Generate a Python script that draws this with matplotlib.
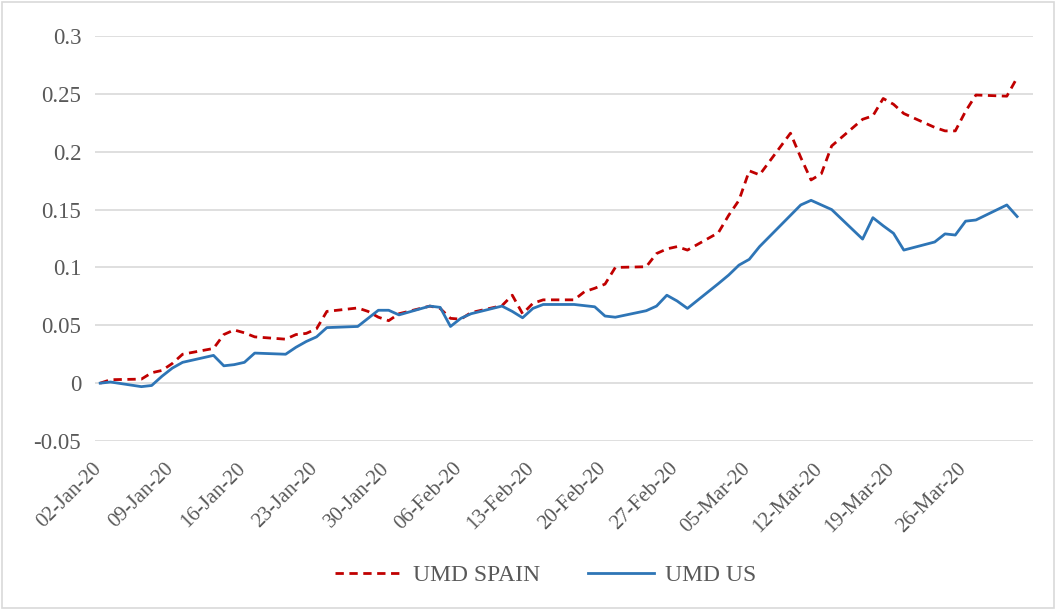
import matplotlib.pyplot as plt
import matplotlib.transforms as mtransforms
import numpy as np
import pandas as pd
from matplotlib.patches import Rectangle

# Settings
plt.rcParams["font.family"] = ["Liberation Serif", "DejaVu Serif"]
plt.rcParams["axes.unicode_minus"] = False

# -----------------------------
# Data
# -----------------------------
dates = [
    "2020-01-02", "2020-01-03", "2020-01-06", "2020-01-07", "2020-01-08",
    "2020-01-09", "2020-01-10", "2020-01-13", "2020-01-14", "2020-01-15",
    "2020-01-16", "2020-01-17", "2020-01-20", "2020-01-21", "2020-01-22",
    "2020-01-23", "2020-01-24", "2020-01-27", "2020-01-28", "2020-01-29",
    "2020-01-30", "2020-01-31", "2020-02-03", "2020-02-04", "2020-02-05",
    "2020-02-06", "2020-02-07", "2020-02-10", "2020-02-11", "2020-02-12",
    "2020-02-13", "2020-02-14", "2020-02-17", "2020-02-18", "2020-02-19",
    "2020-02-20", "2020-02-21", "2020-02-24", "2020-02-25", "2020-02-26",
    "2020-02-27", "2020-02-28", "2020-03-02", "2020-03-03", "2020-03-04",
    "2020-03-05", "2020-03-06", "2020-03-09", "2020-03-10", "2020-03-11",
    "2020-03-12", "2020-03-13", "2020-03-16", "2020-03-17", "2020-03-18",
    "2020-03-19", "2020-03-20", "2020-03-23", "2020-03-24", "2020-03-25",
    "2020-03-26", "2020-03-27", "2020-03-30", "2020-03-31",
]

umd_spain = [
    0.000, 0.003, 0.0035, 0.009, 0.011,
    0.017, 0.025, 0.030, 0.042, 0.046,
    0.0435, 0.040, 0.038, 0.042, 0.043,
    0.047, 0.062, 0.065, 0.062, 0.057,
    0.054, 0.060, 0.0666, 0.0646, 0.056,
    0.0553, 0.061, 0.067, 0.076, 0.060,
    0.069, 0.072, 0.072, 0.079, 0.082,
    0.0856, 0.100, 0.1006, 0.112, 0.116,
    0.118, 0.115, 0.130, 0.145, 0.158,
    0.1835, 0.180, 0.216, 0.195, 0.1756,
    0.181, 0.205, 0.228, 0.231, 0.246,
    0.241, 0.233, 0.221, 0.218, 0.218,
    0.235, 0.249, 0.248, 0.264,
]

umd_us = [
    0.000, 0.001, -0.003, -0.002, 0.006,
    0.013, 0.018, 0.024, 0.015, 0.016,
    0.018, 0.026, 0.025, 0.031, 0.036,
    0.040, 0.048, 0.049, 0.056, 0.063,
    0.063, 0.059, 0.0666, 0.0655, 0.049,
    0.056, 0.060, 0.0666, 0.062, 0.0565,
    0.0646, 0.068, 0.068, 0.067, 0.066,
    0.058, 0.057, 0.0626, 0.0666, 0.076,
    0.071, 0.0646, 0.086, 0.0934, 0.102,
    0.107, 0.118, 0.145, 0.154, 0.158,
    0.154, 0.150, 0.1245, 0.143, 0.136,
    0.1295, 0.115, 0.122, 0.129, 0.128,
    0.140, 0.141, 0.154, 0.144,
]

y_ticks = [-0.05, 0, 0.05, 0.1, 0.15, 0.2, 0.25, 0.3]

x = pd.to_datetime(dates)

# -----------------------------
# Plot
# -----------------------------
text_color = "#595959"
grid_color = "#d9d9d9"

fig = plt.figure(figsize=(10.57, 6.10), dpi=100)
ax = fig.add_axes([0.0899, 0.277, 0.887, 0.664])

ax.plot(
    x,
    umd_spain,
    color="#C00000",
    lw=2.0,
    linestyle=(0, (3, 2)),
    label="UMD SPAIN",
)

ax.plot(
    x,
    umd_us,
    color="#2E75B6",
    lw=2.0,
    label="UMD US",
)

ax.set_ylim(-0.05, 0.3)
ax.set_yticks(y_ticks)
ax.set_yticklabels([f"{v:g}" for v in y_ticks])
ax.grid(axis="y", color=grid_color, lw=1.2)
ax.set_axisbelow(True)

start = x[0]
ax.set_xlim(start - pd.Timedelta(hours=12), start + pd.Timedelta(days=90, hours=12))
ticks = pd.date_range(start, periods=13, freq="7D")
ax.set_xticks(ticks)
ax.set_xticklabels([t.strftime("%d-%b-%y") for t in ticks], rotation=45, ha="right")

ax.tick_params(axis="y", length=0, labelsize=16.5, colors=text_color, pad=10)
ax.tick_params(axis="x", length=0, labelsize=15, colors=text_color, pad=13)
shift = mtransforms.ScaledTranslation(0.05, 0, fig.dpi_scale_trans)
for lbl in ax.get_xticklabels():
    lbl.set_transform(lbl.get_transform() + shift)
for s in ax.spines.values():
    s.set_visible(False)

fig.legend(
    loc="center",
    bbox_to_anchor=(546 / 1057, 0.057),
    ncol=2,
    frameon=False,
    fontsize=17,
    labelcolor=text_color,
    handlelength=2.8,
    columnspacing=2.0,
    handletextpad=0.5,
)

fig.patches.append(
    Rectangle((0.002, 0.003), 0.995, 0.994, transform=fig.transFigure,
              fill=False, edgecolor=grid_color, lw=1.2)
)

fig.savefig("out.png", dpi=100)
